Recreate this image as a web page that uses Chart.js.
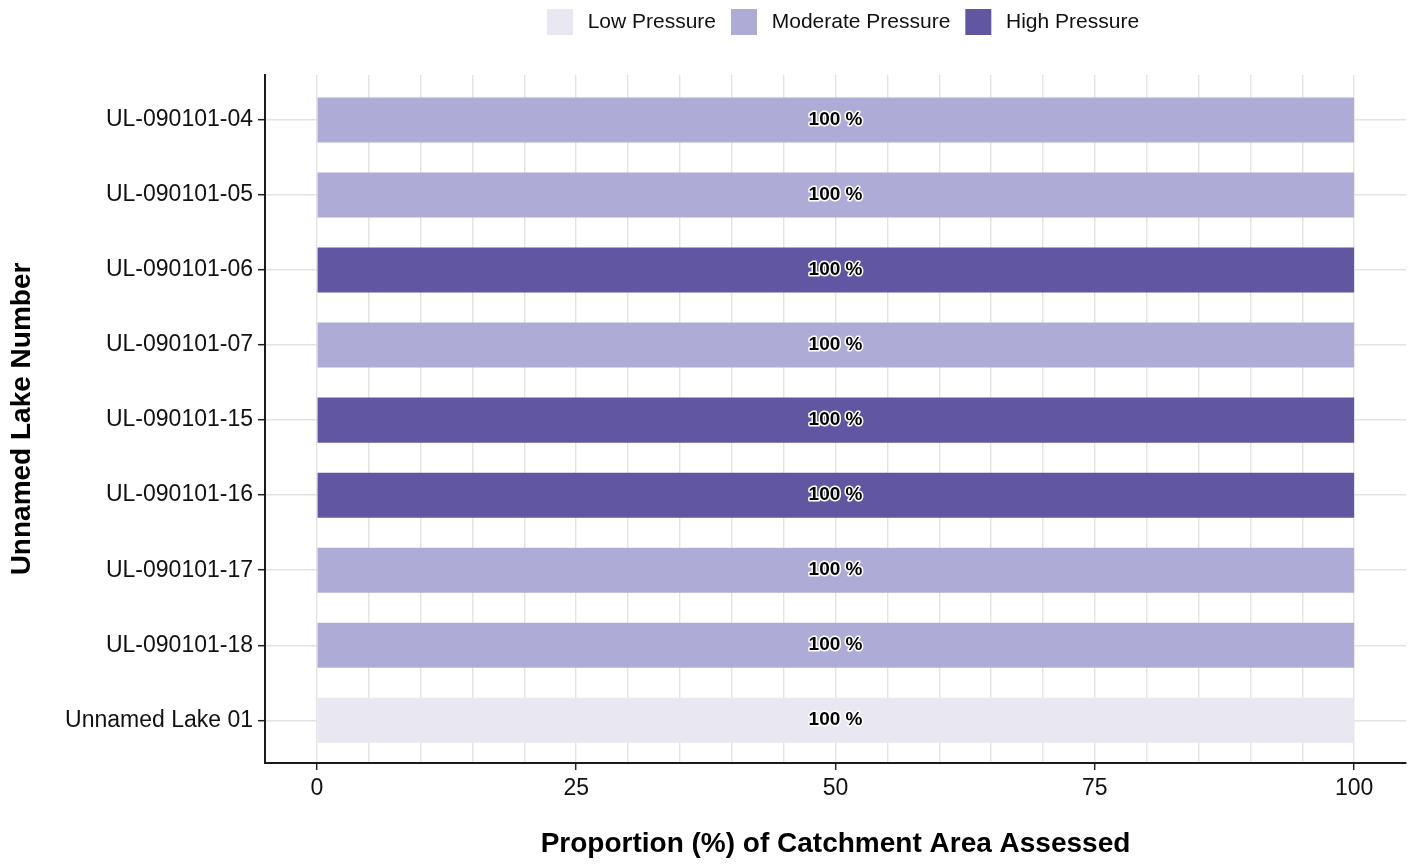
<!DOCTYPE html>
<html>
<head>
<meta charset="utf-8">
<title>Catchment pressure</title>
<script src="https://cdn.jsdelivr.net/npm/chart.js@4/dist/chart.umd.min.js"></script>
<style>
  html, body { margin: 0; padding: 0; background: #fff; }
  canvas { display: block; }
</style>
</head>
<body>
<canvas id="chart" width="1416" height="865"></canvas>
<script>
// lakes, top to bottom
const lakes = [
    'UL-090101-04', 'UL-090101-05', 'UL-090101-06', 'UL-090101-07', 'UL-090101-15',
    'UL-090101-16', 'UL-090101-17', 'UL-090101-18', 'Unnamed Lake 01'
];
const pressure = ['Moderate', 'Moderate', 'High', 'Moderate', 'High', 'High', 'Moderate', 'Moderate', 'Low'];
const proportion = [100, 100, 100, 100, 100, 100, 100, 100, 100];

const levels = ['Low', 'Moderate', 'High'];
const levelColors = ['#e9e7f2', '#aeacd6', '#6056a2'];
const xTickLabels = [0, 25, 50, 75, 100];

const FONT = '"Liberation Sans", Arial, Helvetica, sans-serif';
Chart.defaults.font.family = FONT;
Chart.defaults.color = '#111';

// one dataset per pressure level so the legend shows the three classes
const datasets = levels.map((lvl, k) => ({
    label: lvl + ' Pressure',
    data: lakes.map((name, i) => pressure[i] === lvl ? { x: proportion[i], y: i } : null).filter(d => d),
    backgroundColor: levelColors[k],
    borderWidth: 0,
    grouped: false,
    categoryPercentage: 0.6,
    barPercentage: 1.0
}));

// "100 %" labels in the middle of every bar, black with white halo
const barLabels = {
    id: 'barLabels',
    afterDatasetsDraw(chart) {
        const ctx = chart.ctx;
        const xs = chart.scales.x, ys = chart.scales.y;
        ctx.save();
        ctx.font = 'bold 19px ' + FONT;
        ctx.textAlign = 'center';
        ctx.textBaseline = 'middle';
        ctx.lineJoin = 'round';
        ctx.lineWidth = 3;
        ctx.strokeStyle = '#fff';
        ctx.fillStyle = '#000';
        proportion.forEach((v, i) => {
            const x = xs.getPixelForValue(v / 2);
            const y = ys.getPixelForValue(i);
            const t = v + ' %';
            ctx.strokeText(t, x, y);
            ctx.fillText(t, x, y);
        });
        ctx.restore();
    }
};

// fixed band for the legend at the top, centred a bit right like the reference
const legendBand = {
    id: 'legendBand',
    beforeLayout(chart) {
        const lg = chart.legend;
        if (lg && !lg._patched) {
            const fit = lg.fit;
            lg.fit = function () { fit.call(this); this.height = 81; };
            lg._patched = true;
        }
    },
    afterLayout(chart) {
        const lg = chart.legend;
        if (lg) { lg.left = 280; lg.right = 1406; }
    }
};

new Chart(document.getElementById('chart'), {
    type: 'bar',
    data: { datasets },
    plugins: [legendBand, barLabels],
    options: {
        indexAxis: 'y',
        responsive: false,
        animation: false,
        layout: { padding: { top: -6, right: 10, bottom: 0, left: 0 } },
        scales: {
            x: {
                type: 'linear',
                min: -5,
                max: 105,
                bounds: 'data',
                afterFit(scale) { scale.height = 102; },
                ticks: {
                    stepSize: 5,
                    autoSkip: false,
                    maxRotation: 0,
                    padding: 5,
                    font: { size: 23 },
                    color: '#111',
                    callback: v => xTickLabels.includes(v) ? String(v) : ''
                },
                grid: {
                    color: ctx => (ctx.tick && ctx.tick.value >= 0 && ctx.tick.value <= 100) ? '#e3e3e3' : 'rgba(0,0,0,0)',
                    lineWidth: 1.4,
                    drawTicks: true,
                    tickLength: 7,
                    tickColor: ctx => (ctx.tick && xTickLabels.includes(ctx.tick.value)) ? '#222' : 'rgba(0,0,0,0)',
                    tickWidth: 1.5
                },
                border: { display: true, color: '#1a1a1a', width: 2 },
                title: {
                    display: true,
                    text: 'Proportion (%) of Catchment Area Assessed',
                    font: { size: 28, weight: 'bold', lineHeight: 1.2 },
                    color: '#000',
                    padding: { top: 0, bottom: 4 }
                }
            },
            y: {
                type: 'linear',
                min: -0.6,
                max: 8.57,
                bounds: 'data',
                offset: false,
                reverse: true,
                afterFit(scale) { scale.width = 265; },
                afterBuildTicks(scale) { scale.ticks = lakes.map((name, i) => ({ value: i })); },
                ticks: {
                    autoSkip: false,
                    padding: 5,
                    font: { size: 23 },
                    color: '#111',
                    callback: v => lakes[v] !== undefined ? lakes[v] : ''
                },
                grid: {
                    offset: false,
                    color: '#e3e3e3',
                    lineWidth: 1.4,
                    drawTicks: true,
                    tickLength: 7,
                    tickColor: '#222',
                    tickWidth: 1.5
                },
                border: { display: true, color: '#1a1a1a', width: 2 },
                title: {
                    display: true,
                    text: 'Unnamed Lake Number',
                    font: { size: 28, weight: 'bold', lineHeight: 1.2 },
                    color: '#000',
                    padding: { top: 5, bottom: 0 }
                }
            }
        },
        plugins: {
            legend: {
                position: 'top',
                align: 'center',
                labels: {
                    boxWidth: 26,
                    boxHeight: 26,
                    padding: 15,
                    font: { size: 21 },
                    color: '#111',
                    // thin space so the text sits a little further from the key
                    generateLabels(chart) {
                        return Chart.defaults.plugins.legend.labels.generateLabels(chart)
                            .map(item => Object.assign(item, { text: '\u2009' + item.text }));
                    }
                }
            },
            tooltip: { enabled: false }
        }
    }
});
</script>
</body>
</html>
